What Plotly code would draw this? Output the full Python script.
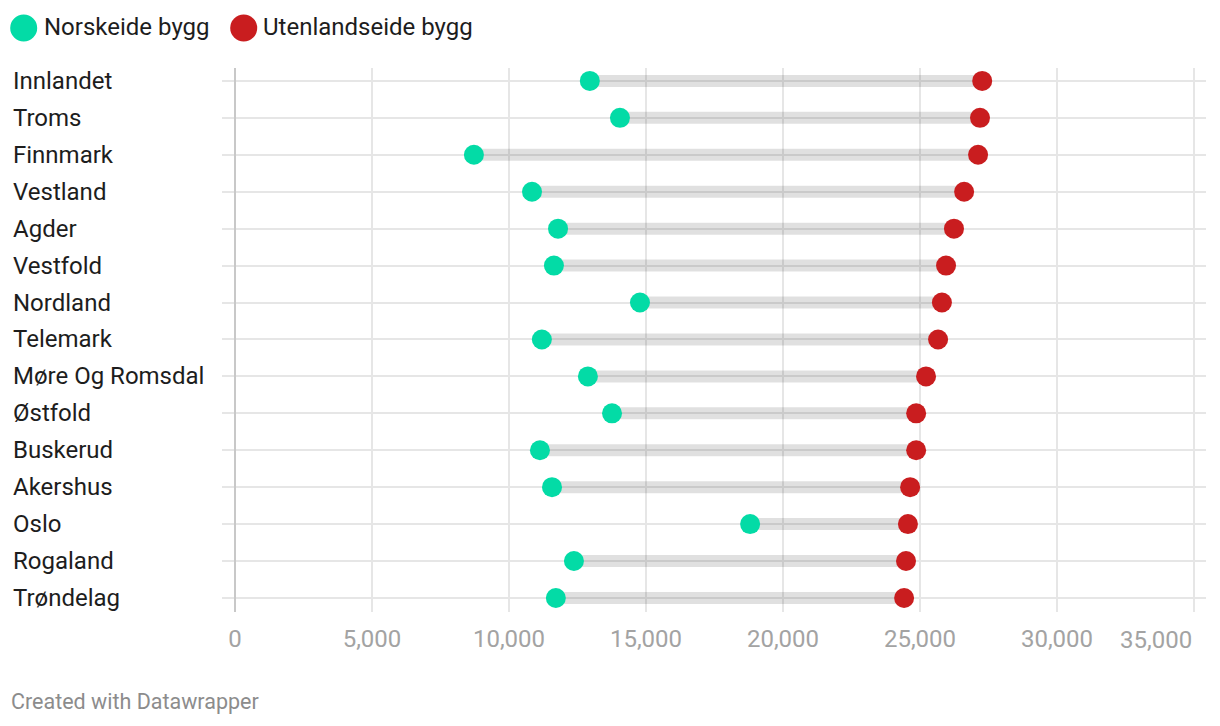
import plotly.graph_objects as go

regions = ["Innlandet", "Troms", "Finnmark", "Vestland", "Agder", "Vestfold", "Nordland",
           "Telemark", "Møre Og Romsdal", "Østfold", "Buskerud", "Akershus", "Oslo",
           "Rogaland", "Trøndelag"]
norsk = [12950, 14050, 8720, 10840, 11790, 11640, 14780, 11200, 12880, 13760, 11130,
         11570, 18800, 12370, 11710]
utenland = [27270, 27190, 27120, 26610, 26240, 25950, 25800, 25660, 25220, 24860, 24860,
            24640, 24560, 24490, 24420]
x_ticks = [0, 5000, 10000, 15000, 20000, 25000, 30000, 35000]
series_names = ["Norskeide bygg", "Utenlandseide bygg"]

GREEN = "#03dba6"
RED = "#c91d1f"
FONT = "Roboto"

# page has an 8px body margin; all coords below are figure coords
W, H = 1204, 710
L, R, T, B = 214, 6, 60, 106
PW, PH = W - L - R, H - T - B

def px_x(p):
    return (p - L) / PW

def px_y(p):
    return (H - B - p) / PH

fig = go.Figure()

# range bars
lx, ly = [], []
for reg, a, b in zip(regions, norsk, utenland):
    lx += [a, b, None]
    ly += [reg, reg, None]
fig.add_trace(go.Scatter(x=lx, y=ly, mode="lines",
                         line=dict(color="rgba(0,0,0,0.12)", width=12),
                         hoverinfo="skip", showlegend=False))

fig.add_trace(go.Scatter(x=norsk, y=regions, mode="markers", name=series_names[0],
                         marker=dict(color=GREEN, size=20), showlegend=False))
fig.add_trace(go.Scatter(x=utenland, y=regions, mode="markers", name=series_names[1],
                         marker=dict(color=RED, size=20), showlegend=False))

annotations = []
for i, reg in enumerate(regions):
    annotations.append(dict(x=px_x(3), y=i, xref="paper", yref="y", text=reg,
                            showarrow=False, xanchor="left", yanchor="middle",
                            font=dict(family=FONT, size=24, color="#1d1d1d")))

# legend (manual)
shapes = []
leg = [(15.7, 36, series_names[0], GREEN), (235.7, 255, series_names[1], RED)]
for cx, tx, name, col in leg:
    r = 13.5
    shapes.append(dict(type="circle", xref="paper", yref="paper",
                       x0=px_x(cx - r), x1=px_x(cx + r), y0=px_y(20 + r), y1=px_y(20 - r),
                       fillcolor=col, line=dict(width=0)))
    annotations.append(dict(x=px_x(tx - 2), y=px_y(19), xref="paper", yref="paper", text=name,
                            showarrow=False, xanchor="left", yanchor="middle",
                            font=dict(family=FONT, size=24, color="#1d1d1d")))

# last tick label is right-aligned to its gridline (as in the reference)
tick_text = [f"{v:,}" for v in x_ticks]
annotations.append(dict(x=x_ticks[-1], y=px_y(632), xref="x", yref="paper",
                        text=tick_text[-1], showarrow=False,
                        xanchor="right", yanchor="middle",
                        font=dict(family=FONT, size=24, color="#a3a3a3")))
tick_text[-1] = ""

annotations.append(dict(x=px_x(1), y=px_y(693), xref="paper", yref="paper",
                        text="Created with Datawrapper", showarrow=False,
                        xanchor="left", yanchor="middle",
                        font=dict(family=FONT, size=21.5, color="#8c8c8c")))

fig.update_layout(
    width=W, height=H,
    margin=dict(l=L, r=R, t=T, b=B, pad=0, autoexpand=False),
    paper_bgcolor="white", plot_bgcolor="white",
    font=dict(family=FONT),
    showlegend=False,
    shapes=shapes,
    annotations=annotations,
    xaxis=dict(range=[-474, 35438], tickvals=x_ticks, ticktext=tick_text,
               showgrid=True, gridcolor="#e6e6e6", gridwidth=2,
               zeroline=True, zerolinecolor="#c8c8c8", zerolinewidth=2,
               showline=False, ticks="", ticklabeloverflow="allow",
               automargin=False,
               tickfont=dict(family=FONT, size=24, color="#a3a3a3"),
               ticklabelstandoff=10, fixedrange=True),
    yaxis=dict(type="category", categoryorder="array", categoryarray=regions,
               range=[14.38, -0.35], showgrid=True, gridcolor="#e6e6e6", gridwidth=2,
               showticklabels=False, zeroline=False, showline=False, ticks="",
               automargin=False, fixedrange=True),
)

fig.write_html("out.html")
